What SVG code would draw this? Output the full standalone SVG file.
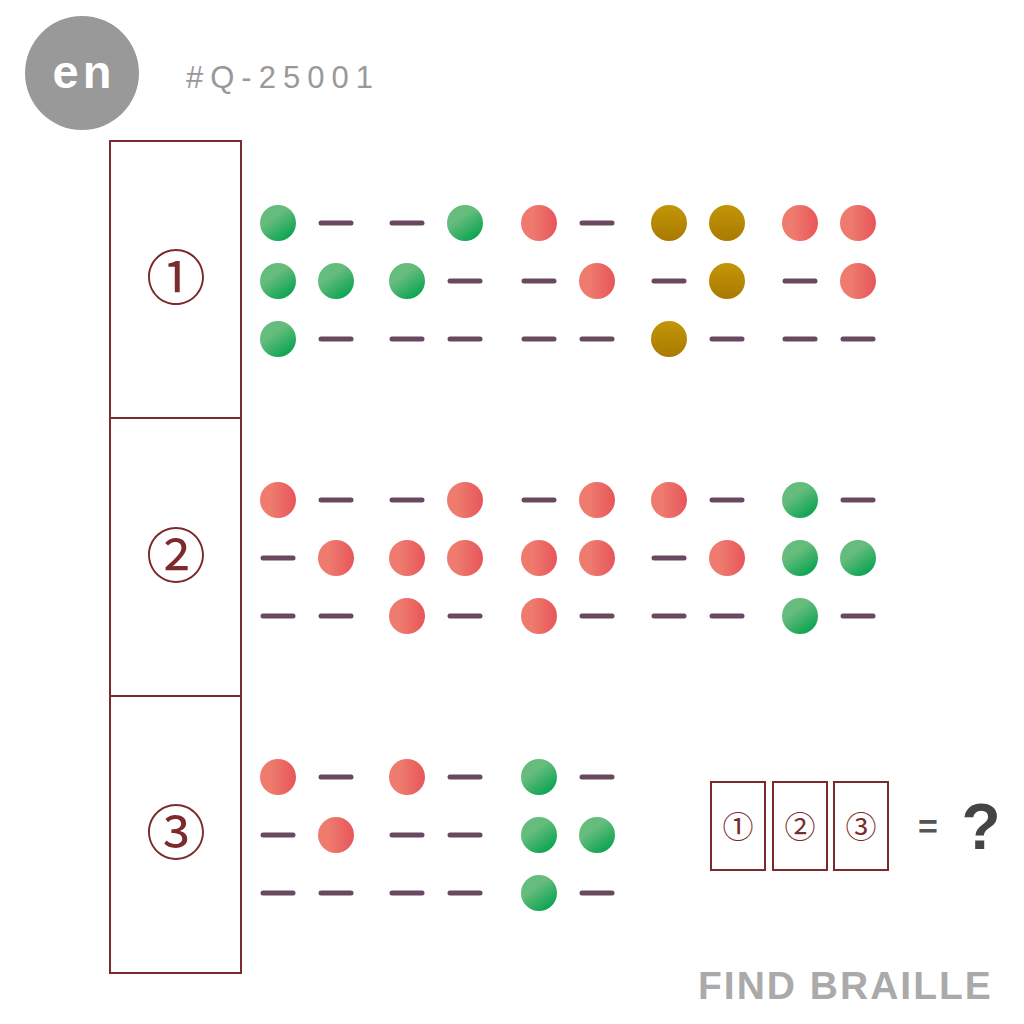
<svg xmlns="http://www.w3.org/2000/svg" xmlns:xlink="http://www.w3.org/1999/xlink" width="1024" height="1024" viewBox="0 0 1024 1024">
<defs>
<linearGradient id="gG" x1="0.2" y1="0.1" x2="0.8" y2="0.95"><stop offset="0.3" stop-color="#66bc7c"/><stop offset="1" stop-color="#06a350"/></linearGradient>
<linearGradient id="gR" x1="0" y1="0" x2="1" y2="0"><stop offset="0.3" stop-color="#ee7b6e"/><stop offset="1" stop-color="#e7555a"/></linearGradient>
<linearGradient id="gY" x1="0" y1="0" x2="0" y2="1"><stop offset="0" stop-color="#c39608"/><stop offset="1" stop-color="#a97a00"/></linearGradient>
<circle id="g" r="18" fill="url(#gG)"/>
<circle id="r" r="18" fill="url(#gR)"/>
<circle id="y" r="18" fill="url(#gY)"/>
<line id="d" x1="-15" y1="0" x2="15" y2="0" stroke="#6a4860" stroke-width="5" stroke-linecap="round"/>
<style>
.box{fill:none;stroke:#7b2b2b;stroke-width:2}
.num{font-family:"Noto Sans CJK JP","Noto Sans CJK SC",sans-serif;font-weight:400;fill:#7b2b2b;text-anchor:middle}
</style>
</defs>
<rect width="1024" height="1024" fill="#fff"/>
<g id="header">
<circle cx="82" cy="73" r="57" fill="#999"/>
<text x="84" y="88" font-family="Liberation Sans, sans-serif" font-weight="bold" font-size="47" fill="#fff" text-anchor="middle" letter-spacing="4">en</text>
<text x="186" y="88" font-family="Liberation Sans, sans-serif" font-size="31" fill="#999" letter-spacing="7">#Q-25001</text>
</g>
<g id="panels">
<rect class="box" x="110" y="141" width="131" height="277"/>
<rect class="box" x="110" y="418" width="131" height="278"/>
<rect class="box" x="110" y="696" width="131" height="277"/>
<text class="num" x="176" y="300" font-size="60">①</text>
<text class="num" x="176" y="578" font-size="60">②</text>
<text class="num" x="176" y="855" font-size="60">③</text>
</g>
<g id="braille1">
<use href="#g" x="278" y="223"/><use href="#d" x="336" y="223"/><use href="#d" x="407" y="223"/><use href="#g" x="465" y="223"/><use href="#r" x="539" y="223"/><use href="#d" x="597" y="223"/><use href="#y" x="669" y="223"/><use href="#y" x="727" y="223"/><use href="#r" x="800" y="223"/><use href="#r" x="858" y="223"/>
<use href="#g" x="278" y="281"/><use href="#g" x="336" y="281"/><use href="#g" x="407" y="281"/><use href="#d" x="465" y="281"/><use href="#d" x="539" y="281"/><use href="#r" x="597" y="281"/><use href="#d" x="669" y="281"/><use href="#y" x="727" y="281"/><use href="#d" x="800" y="281"/><use href="#r" x="858" y="281"/>
<use href="#g" x="278" y="339"/><use href="#d" x="336" y="339"/><use href="#d" x="407" y="339"/><use href="#d" x="465" y="339"/><use href="#d" x="539" y="339"/><use href="#d" x="597" y="339"/><use href="#y" x="669" y="339"/><use href="#d" x="727" y="339"/><use href="#d" x="800" y="339"/><use href="#d" x="858" y="339"/>
</g>
<g id="braille2">
<use href="#r" x="278" y="500"/><use href="#d" x="336" y="500"/><use href="#d" x="407" y="500"/><use href="#r" x="465" y="500"/><use href="#d" x="539" y="500"/><use href="#r" x="597" y="500"/><use href="#r" x="669" y="500"/><use href="#d" x="727" y="500"/><use href="#g" x="800" y="500"/><use href="#d" x="858" y="500"/>
<use href="#d" x="278" y="558"/><use href="#r" x="336" y="558"/><use href="#r" x="407" y="558"/><use href="#r" x="465" y="558"/><use href="#r" x="539" y="558"/><use href="#r" x="597" y="558"/><use href="#d" x="669" y="558"/><use href="#r" x="727" y="558"/><use href="#g" x="800" y="558"/><use href="#g" x="858" y="558"/>
<use href="#d" x="278" y="616"/><use href="#d" x="336" y="616"/><use href="#r" x="407" y="616"/><use href="#d" x="465" y="616"/><use href="#r" x="539" y="616"/><use href="#d" x="597" y="616"/><use href="#d" x="669" y="616"/><use href="#d" x="727" y="616"/><use href="#g" x="800" y="616"/><use href="#d" x="858" y="616"/>
</g>
<g id="braille3">
<use href="#r" x="278" y="777"/><use href="#d" x="336" y="777"/><use href="#r" x="407" y="777"/><use href="#d" x="465" y="777"/><use href="#g" x="539" y="777"/><use href="#d" x="597" y="777"/>
<use href="#d" x="278" y="835"/><use href="#r" x="336" y="835"/><use href="#d" x="407" y="835"/><use href="#d" x="465" y="835"/><use href="#g" x="539" y="835"/><use href="#g" x="597" y="835"/>
<use href="#d" x="278" y="893"/><use href="#d" x="336" y="893"/><use href="#d" x="407" y="893"/><use href="#d" x="465" y="893"/><use href="#g" x="539" y="893"/><use href="#d" x="597" y="893"/>
</g>
<g id="answer">
<rect class="box" x="711" y="782" width="54" height="88"/>
<rect class="box" x="773" y="782" width="54" height="88"/>
<rect class="box" x="834" y="782" width="54" height="88"/>
<text class="num" x="738" y="838" font-size="31">①</text>
<text class="num" x="800" y="838" font-size="31">②</text>
<text class="num" x="861" y="838" font-size="31">③</text>
<text x="928" y="838" font-family="Liberation Sans, sans-serif" font-weight="bold" font-size="34" fill="#555" text-anchor="middle">=</text>
<text x="981" y="849" font-family="Liberation Sans, sans-serif" font-weight="bold" font-size="64" fill="#444" text-anchor="middle">?</text>
</g>
<text id="footer" x="698" y="999" font-family="Liberation Sans, sans-serif" font-weight="bold" font-size="39" fill="#aaa" letter-spacing="2">FIND BRAILLE</text>
</svg>
